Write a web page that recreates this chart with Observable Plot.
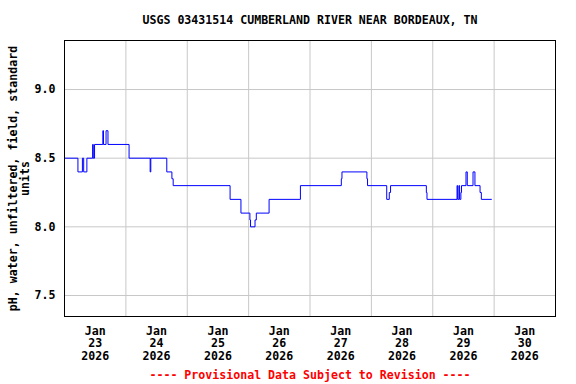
<!DOCTYPE html>
<html><head><meta charset="utf-8">
<script src="https://cdn.jsdelivr.net/npm/d3@7"></script>
<script src="https://cdn.jsdelivr.net/npm/@observablehq/plot@0.6"></script>
<style>body{margin:0;background:#fff}</style>
</head><body><div id="chart"></div>
<script>
// Change points of the step series (UTC-labelled local times)
const times = [
  "2026-01-23T00:00Z","2026-01-23T05:15Z","2026-01-23T07:00Z","2026-01-23T07:30Z","2026-01-23T08:45Z",
  "2026-01-23T11:00Z","2026-01-23T11:15Z","2026-01-23T11:45Z","2026-01-23T15:00Z","2026-01-23T15:15Z",
  "2026-01-23T16:15Z","2026-01-23T17:00Z","2026-01-24T01:15Z","2026-01-24T09:30Z","2026-01-24T09:45Z",
  "2026-01-24T16:00Z","2026-01-24T18:00Z","2026-01-24T18:30Z","2026-01-25T16:45Z","2026-01-25T21:00Z",
  "2026-01-26T00:30Z","2026-01-26T00:45Z","2026-01-26T02:30Z","2026-01-26T03:00Z","2026-01-26T08:00Z",
  "2026-01-26T20:15Z","2026-01-27T12:15Z","2026-01-27T12:30Z","2026-01-27T22:15Z","2026-01-27T22:30Z",
  "2026-01-28T06:00Z","2026-01-28T07:00Z","2026-01-28T07:30Z","2026-01-28T21:30Z","2026-01-28T21:45Z",
  "2026-01-29T09:30Z","2026-01-29T09:45Z","2026-01-29T10:15Z","2026-01-29T10:30Z","2026-01-29T11:00Z",
  "2026-01-29T11:15Z","2026-01-29T13:00Z","2026-01-29T13:30Z","2026-01-29T15:45Z","2026-01-29T16:30Z",
  "2026-01-29T18:30Z","2026-01-29T19:00Z","2026-01-29T23:00Z"
];
const phValues = [
  8.5, 8.4, 8.5, 8.4, 8.5,
  8.6, 8.5, 8.6, 8.7, 8.6,
  8.7, 8.6, 8.5, 8.4, 8.5,
  8.4, 8.35, 8.3, 8.2, 8.1,
  8.05, 8.0, 8.05, 8.1, 8.2,
  8.3, 8.35, 8.4, 8.35, 8.3,
  8.2, 8.25, 8.3, 8.25, 8.2,
  8.3, 8.2, 8.3, 8.2, 8.25,
  8.3, 8.4, 8.3, 8.4, 8.3,
  8.25, 8.2, 8.2
];
const labelDays = ["23","24","25","26","27","28","29","30"];
const gridDays = ["24","25","26","27","28","29","30"];
const yTicks = [7.5, 8.0, 8.5, 9.0];
const xDomain = ["2026-01-23T00:00Z", "2026-01-31T00:00Z"];
const yDomain = [7.347, 9.357];
const titleText = "USGS 03431514 CUMBERLAND RIVER NEAR BORDEAUX, TN";
const yLabelText = "pH, water, unfiltered, field, standard\nunits";
const captionText = "---- Provisional Data Subject to Revision ----";

const data = times.map((t, i) => ({t: new Date(t), v: phValues[i]}));
const labelDates = labelDays.map(d => new Date(`2026-01-${d}T12:00Z`));
const gridDates = gridDays.map(d => new Date(`2026-01-${d}T00:00Z`));
const FONT = "DejaVu Sans Mono";
const FS = 11.6;

const chart = Plot.plot({
  width: 576,
  height: 384,
  marginLeft: 64,
  marginRight: 21,
  marginTop: 40,
  marginBottom: 68,
  style: {fontFamily: FONT, fontWeight: "bold", fontSize: FS + "px", background: "#fff", color: "#000"},
  x: {type: "utc", domain: xDomain.map(d => new Date(d)), label: null},
  y: {domain: yDomain, label: null},
  marks: [
    Plot.gridX(gridDates, {stroke: "#c8c8c8", strokeOpacity: 1}),
    Plot.gridY(yTicks, {stroke: "#c8c8c8", strokeOpacity: 1}),
    Plot.line(data, {x: "t", y: "v", curve: "step-after", stroke: "#0000ff", strokeWidth: 1}),
    Plot.frame({stroke: "#000"}),
    Plot.axisX(labelDates, {tickSize: 0, tickPadding: 9, fontSize: FS, fontWeight: "bold", lineHeight: 1.1,
      tickFormat: d => `Jan\n${d.getUTCDate()}\n2026`}),
    Plot.axisY(yTicks, {tickSize: 0, tickPadding: 9, fontSize: FS, fontWeight: "bold", tickFormat: d => d.toFixed(1)}),
    Plot.text([titleText], {frameAnchor: "top", dy: -20, textAnchor: "middle", lineAnchor: "middle", fontSize: FS, fontWeight: "bold", fill: "#000"}),
    Plot.text([captionText], {frameAnchor: "bottom", dy: 59, textAnchor: "middle", lineAnchor: "middle", fontSize: FS, fontWeight: "bold", fill: "#ff0000"}),
    Plot.text([yLabelText], {frameAnchor: "left", dx: -45.5, rotate: -90, textAnchor: "middle", lineAnchor: "middle", fontSize: FS, fontWeight: "bold", fill: "#000", lineHeight: 1.1})
  ]
});
document.getElementById("chart").appendChild(chart);
</script>
</body></html>
